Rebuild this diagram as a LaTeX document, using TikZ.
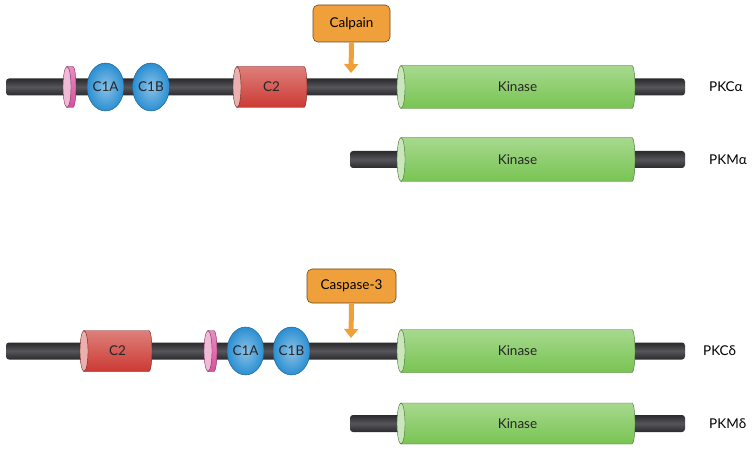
\documentclass[tikz,border=0pt]{standalone}
\usepackage{fontspec}
\setmainfont{Lato}
\usetikzlibrary{shapes.geometric,arrows.meta}

\definecolor{rodgray}{HTML}{2B2B2E}
\definecolor{rodlight}{HTML}{55555A}
\definecolor{kinasegreen}{HTML}{78C452}
\definecolor{ctwored}{HTML}{CC3A33}
\definecolor{conblue}{HTML}{2A8FD2}
\definecolor{ringpink}{HTML}{D9509E}
\definecolor{enzorange}{HTML}{F0A03A}

\newcommand\labelfont{\fontsize{13.5}{16}\selectfont}

% cylinder domain: name, face x, end x, y, height, colour, label
\newcommand\domain[7]{%
	\shade[top color=#6!65!white, bottom color=#6, draw=#6!55!black]
		(#2,#4-#5/2) -- (#3,#4-#5/2) arc[start angle=-90, end angle=90, x radius=3pt, y radius=#5/2*1pt]
		-- (#2,#4+#5/2) -- cycle;
	\filldraw[fill=#6!40!white, draw=#6!55!black] (#2,#4) ellipse[x radius=4pt, y radius=#5/2*1pt];
	\node[dom] (#1) at ({(#2+#3)/2+1},#4) {#7};
}

\tikzset{
	rod/.style={rectangle, inner sep=0pt, minimum height=17pt, rounded corners=3pt,
		top color=rodgray, bottom color=rodgray, middle color=rodlight},
	dom/.style={inner sep=0pt, font=\labelfont, text=black!85},
	cone/.style={ellipse, inner sep=0pt, minimum width=37pt, minimum height=48pt,
		draw=conblue!60!black, inner color=conblue!55!white, outer color=conblue,
		font=\labelfont, text=black!85},
	enzyme/.style={rectangle, rounded corners=5pt, fill=enzorange, draw=enzorange!45!black,
		line width=0.6pt, inner sep=0pt, font=\labelfont},
	cut/.style={enzorange, line width=5pt, -{Triangle[width=14pt,length=9pt]}},
	form/.style={anchor=west, inner sep=0pt, font=\labelfont}
}

\begin{document}
\begin{tikzpicture}[x=1pt, y=1pt]
	\useasboundingbox (0,0) rectangle (754,450);
	
	% Draw PKC alpha
	\node[rod, minimum width=679pt] (rodPKCa) at (345.5,363) {};
	\domain{ringA}{67}{73}{363}{41}{ringpink}{}
	\foreach \nm/\x/\t in {c1aA/105.5/C1A, c1bA/151/C1B} {
		\node[cone] (\nm) at (\x,363) {\t};
	}
	\domain{c2A}{237}{304}{363}{41}{ctwored}{C2}
	\domain{kinA}{401}{632}{363}{43}{kinasegreen}{Kinase}
	
	% Draw PKM alpha
	\node[rod, minimum width=335pt] (rodPKMa) at (517.5,290.5) {};
	\domain{kinMA}{401}{632}{290.5}{44}{kinasegreen}{Kinase}
	
	% Draw PKC delta
	\node[rod, minimum width=679pt] (rodPKCd) at (345.5,99) {};
	\domain{c2D}{84}{149}{99}{41}{ctwored}{C2}
	\domain{ringD}{208}{214}{99}{41}{ringpink}{}
	\foreach \nm/\x/\t in {c1aD/245.5/C1A, c1bD/291.5/C1B} {
		\node[cone] (\nm) at (\x,99) {\t};
	}
	\domain{kinD}{401}{632}{99}{43}{kinasegreen}{Kinase}
	
	% Draw PKM delta
	\node[rod, minimum width=335pt] (rodPKMd) at (517.5,26.5) {};
	\domain{kinMD}{401}{632}{26.5}{41}{kinasegreen}{Kinase}
	
	% Draw the proteases and their cleavage sites
	\node[enzyme, minimum width=77pt, minimum height=37pt] (calpain) at (351.5,426.5) {Calpain};
	\coordinate (cutA) at (351,377);
	\draw[cut] (calpain.south) -- (cutA);
	
	\node[enzyme, minimum width=89pt, minimum height=34pt] (caspase) at (351.5,164) {Caspase-3};
	\coordinate (cutD) at (351,112);
	\draw[cut] (caspase.south) -- (cutD);
	
	% Draw the names
	\node[form] (pkca) at (709,363) {PKCα};
	\node[form] (pkma) at (709,290.5) {PKMα};
	\node[form] (pkcd) at (703,99) {PKCδ};
	\node[form] (pkmd) at (709,26.5) {PKMδ};
	
\end{tikzpicture}
\end{document}
